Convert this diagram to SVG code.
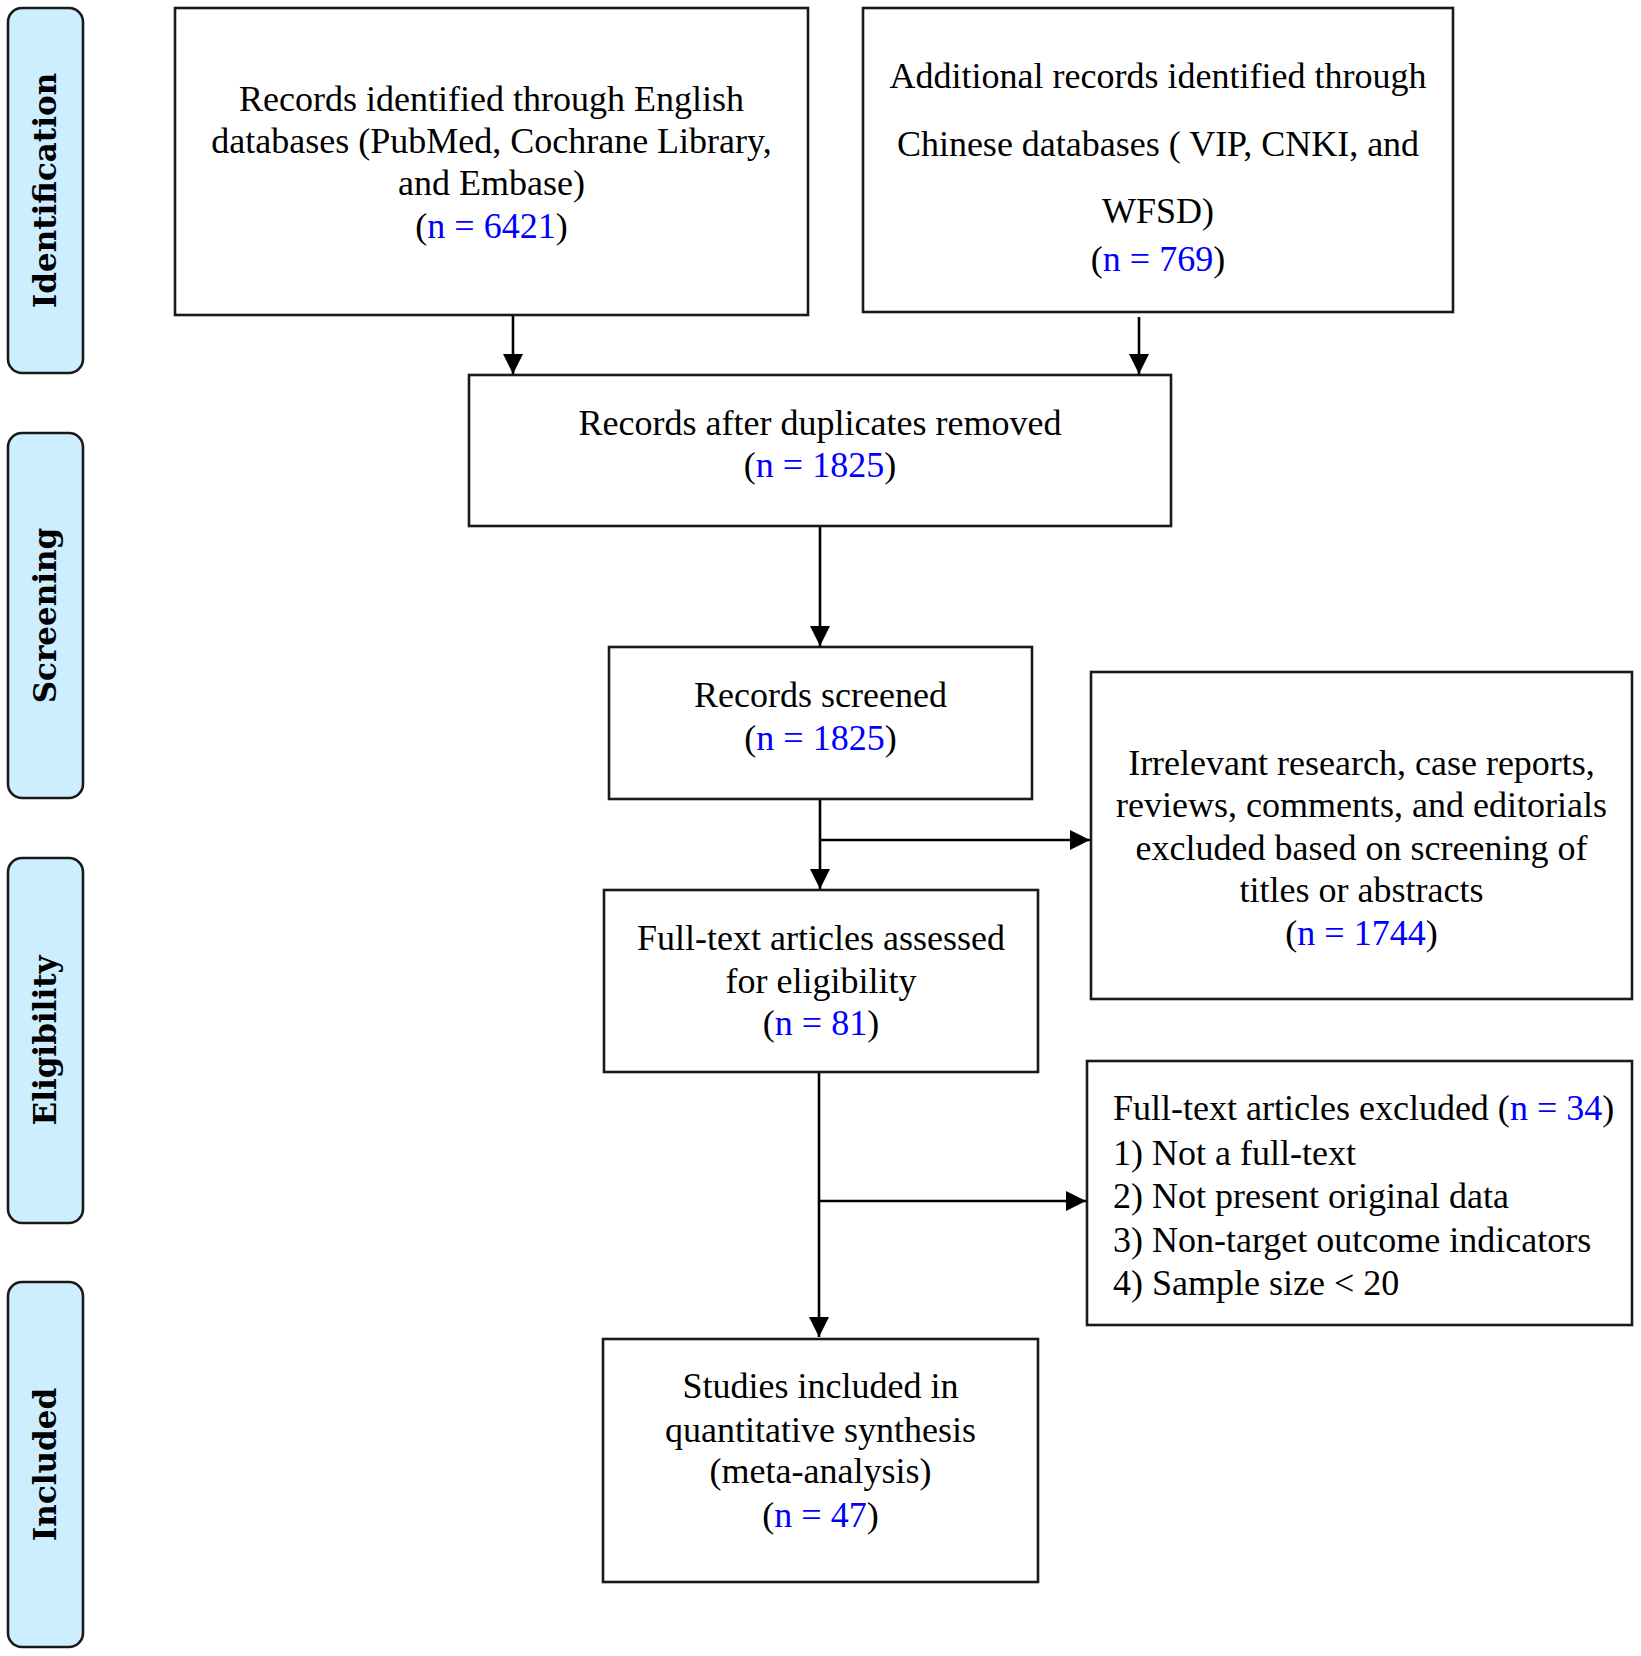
<svg xmlns="http://www.w3.org/2000/svg" width="1641" height="1656" viewBox="0 0 1641 1656">
<style>
.box{fill:#fff;stroke:#1a1a1a;stroke-width:2.6}
.pill{fill:#cdeeff;stroke:#1a1a1a;stroke-width:2.6}
.t{font-family:"Liberation Serif","Times New Roman",serif;font-size:36px;fill:#000}
.c{text-anchor:middle}
.n{fill:#0000ff}
.lab{font-family:"DejaVu Serif",serif;font-weight:bold;font-size:31px;fill:#000;text-anchor:middle}
.ln{fill:none;stroke:#000;stroke-width:2.6}
</style>
<defs>
<marker id="ah" markerUnits="userSpaceOnUse" markerWidth="20" markerHeight="20" refX="20" refY="10" orient="auto">
<path d="M0,0 L20,10 L0,20 z" fill="#000"/>
</marker>
</defs>
<rect width="1641" height="1656" fill="#fff"/>
<g id="phase-identification">
<rect class="pill" x="8" y="8" width="75" height="365" rx="14"/>
<text class="lab" transform="translate(56,190.5) rotate(-90)">Identification</text>
</g>
<g id="phase-screening">
<rect class="pill" x="8" y="433" width="75" height="365" rx="14"/>
<text class="lab" transform="translate(56,615.5) rotate(-90)">Screening</text>
</g>
<g id="phase-eligibility">
<rect class="pill" x="8" y="858" width="75" height="365" rx="14"/>
<text class="lab" transform="translate(56,1040.5) rotate(-90)">Eligibility</text>
</g>
<g id="phase-included">
<rect class="pill" x="8" y="1282" width="75" height="365" rx="14"/>
<text class="lab" transform="translate(56,1464.5) rotate(-90)">Included</text>
</g>
<g id="connectors">
<path class="ln" d="M513,315 V374" marker-end="url(#ah)"/>
<path class="ln" d="M1139,317 V374" marker-end="url(#ah)"/>
<path class="ln" d="M820,526 V646" marker-end="url(#ah)"/>
<path class="ln" d="M820,799 V889" marker-end="url(#ah)"/>
<path class="ln" d="M820,840 H1090" marker-end="url(#ah)"/>
<path class="ln" d="M819,1072 V1337" marker-end="url(#ah)"/>
<path class="ln" d="M819,1201 H1086" marker-end="url(#ah)"/>
</g>
<g id="english-records">
<rect class="box" x="175" y="8" width="633" height="307"/>
<text class="t c" x="491.5" y="111">Records identified through English</text>
<text class="t c" x="491.5" y="153">databases (PubMed, Cochrane Library,</text>
<text class="t c" x="491.5" y="195">and Embase)</text>
<text class="t c" x="491.5" y="238">(<tspan class="n">n = 6421</tspan>)</text>
</g>
<g id="chinese-records">
<rect class="box" x="863" y="8" width="590" height="304"/>
<text class="t c" x="1158" y="88">Additional records identified through</text>
<text class="t c" x="1158" y="156">Chinese databases ( VIP, CNKI, and</text>
<text class="t c" x="1158" y="223">WFSD)</text>
<text class="t c" x="1158" y="271">(<tspan class="n">n = 769</tspan>)</text>
</g>
<g id="duplicates-removed">
<rect class="box" x="469" y="375" width="702" height="151"/>
<text class="t c" x="820" y="435">Records after duplicates removed</text>
<text class="t c" x="820" y="477">(<tspan class="n">n = 1825</tspan>)</text>
</g>
<g id="records-screened">
<rect class="box" x="609" y="647" width="423" height="152"/>
<text class="t c" x="820.5" y="707">Records screened</text>
<text class="t c" x="820.5" y="750">(<tspan class="n">n = 1825</tspan>)</text>
</g>
<g id="excluded-screening">
<rect class="box" x="1091" y="672" width="541" height="327"/>
<text class="t c" x="1361.5" y="775">Irrelevant research, case reports,</text>
<text class="t c" x="1361.5" y="817">reviews, comments, and editorials</text>
<text class="t c" x="1361.5" y="860">excluded based on screening of</text>
<text class="t c" x="1361.5" y="902">titles or abstracts</text>
<text class="t c" x="1361.5" y="945">(<tspan class="n">n = 1744</tspan>)</text>
</g>
<g id="full-text-assessed">
<rect class="box" x="604" y="890" width="434" height="182"/>
<text class="t c" x="821" y="950">Full-text articles assessed</text>
<text class="t c" x="821" y="993">for eligibility</text>
<text class="t c" x="821" y="1035">(<tspan class="n">n = 81</tspan>)</text>
</g>
<g id="full-text-excluded">
<rect class="box" x="1087" y="1061" width="545" height="264"/>
<text class="t" x="1113" y="1120">Full-text articles excluded (<tspan class="n">n = 34</tspan>)</text>
<text class="t" x="1113" y="1165">1) Not a full-text</text>
<text class="t" x="1113" y="1208">2) Not present original data</text>
<text class="t" x="1113" y="1252">3) Non-target outcome indicators</text>
<text class="t" x="1113" y="1295">4) Sample size &lt; 20</text>
</g>
<g id="studies-included">
<rect class="box" x="603" y="1339" width="435" height="243"/>
<text class="t c" x="820.5" y="1398">Studies included in</text>
<text class="t c" x="820.5" y="1442">quantitative synthesis</text>
<text class="t c" x="820.5" y="1483">(meta-analysis)</text>
<text class="t c" x="820.5" y="1527">(<tspan class="n">n = 47</tspan>)</text>
</g>
</svg>
